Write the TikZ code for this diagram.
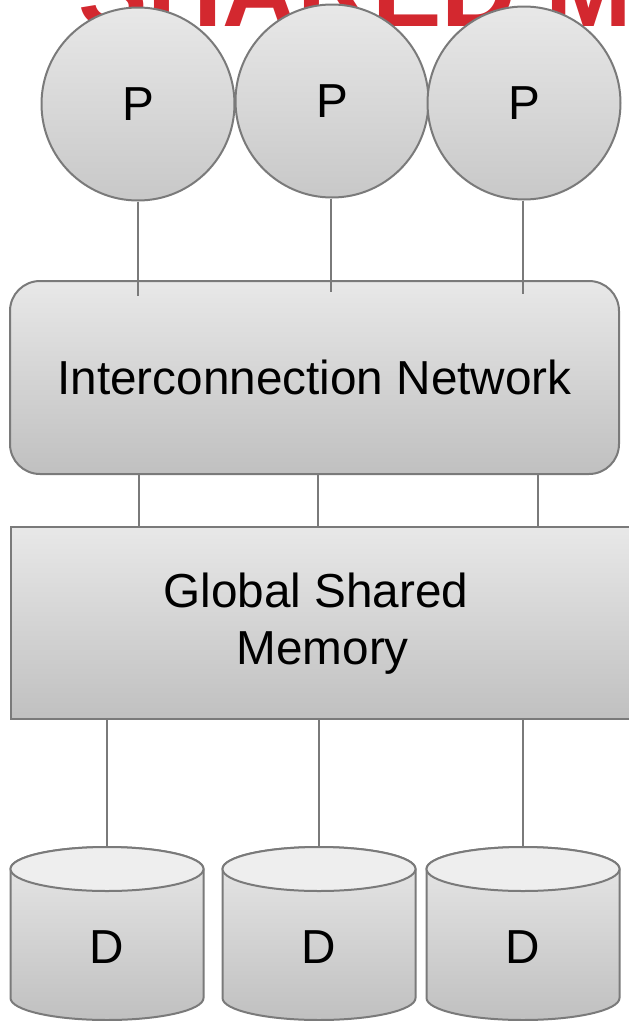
\documentclass[tikz,border=0pt]{standalone}
\usepackage{fontspec}
\setmainfont{Liberation Sans}
\usetikzlibrary{calc}
\definecolor{edge}{HTML}{7A7A7A}
\definecolor{redt}{HTML}{D3282F}
\definecolor{gtop}{HTML}{E8E8E8}
\definecolor{gbot}{HTML}{C0C0C0}
\definecolor{ctop}{HTML}{EEEEEE}
\newcommand\drawcyl[2]{%
  \path[draw=edge, top color=gtop, bottom color=gbot]
    (#1-96.5,869) -- (#1-96.5,998)
    arc[start angle=180, end angle=0, x radius=96.5, y radius=22]
    -- (#1+96.5,869)
    arc[start angle=0, end angle=-180, x radius=96.5, y radius=22] -- cycle;
  \path[draw=edge, fill=ctop] (#1,869) ellipse[x radius=96.5, y radius=22];
  \coordinate (#2) at (#1,847);
}
\begin{document}
\begin{tikzpicture}[x=1pt, y=-1pt, line width=2pt,
  proc/.style={circle, draw=edge, top color=gtop, bottom color=gbot!80!gtop,
    minimum size=193pt, inner sep=0pt, font=\fontsize{47.7}{57}\selectfont},
  box/.style={draw=edge, top color=gtop, bottom color=gbot, inner sep=0pt},
  wire/.style={draw=edge, line width=2pt},
  txt/.style={font=\fontsize{47.7}{57}\selectfont, inner sep=0pt}]
\useasboundingbox (0,0) rectangle (629,1021);
\clip (0,0) rectangle (629,1021);

% clipped title
\node[anchor=base west, inner sep=0pt, text=redt,
  font=\fontsize{104}{104}\selectfont\bfseries] (title) at (77,26) {SHARED M};

% processors
\node[proc] (p1) at (138,104) {P};
\node[proc] (p2) at (332,101) {P};
\node[proc] (p3) at (524,103) {P};

% interconnection network
\node[box, rounded corners=30pt, minimum width=609pt, minimum height=193pt,
  txt] (ic) at (314.5,377.5) {Interconnection Network};

% global shared memory
\node[box, minimum width=640pt, minimum height=192pt, anchor=north west]
  (gsm) at (10,526) {};
\node[txt, align=center] (gsmtext) at (316,624)
  {Global Shared\\\hspace*{0.28em}Memory};

% disks
\drawcyl{107}{d1top}
\drawcyl{319}{d2top}
\drawcyl{523}{d3top}
\node[txt] (d1) at (107,947) {D};
\node[txt] (d2) at (319,947) {D};
\node[txt] (d3) at (523,947) {D};

% connectors
\coordinate (p1e) at (138,296);
\coordinate (p2e) at (331,292);
\coordinate (p3e) at (523,294);
\draw[wire] (p1.south) -- (p1e);
\draw[wire] (p2.south -| p2e) -- (p2e);
\draw[wire] (p3.south -| p3e) -- (p3e);

\coordinate (m1) at (139,0);
\coordinate (m2) at (318,0);
\coordinate (m3) at (538,0);
\draw[wire] (ic.south -| m1) -- (gsm.north -| m1);
\draw[wire] (ic.south -| m2) -- (gsm.north -| m2);
\draw[wire] (ic.south -| m3) -- (gsm.north -| m3);

\draw[wire] (gsm.south -| d1top) -- (d1top);
\draw[wire] (gsm.south -| d2top) -- (d2top);
\draw[wire] (gsm.south -| d3top) -- (d3top);
\end{tikzpicture}
\end{document}
